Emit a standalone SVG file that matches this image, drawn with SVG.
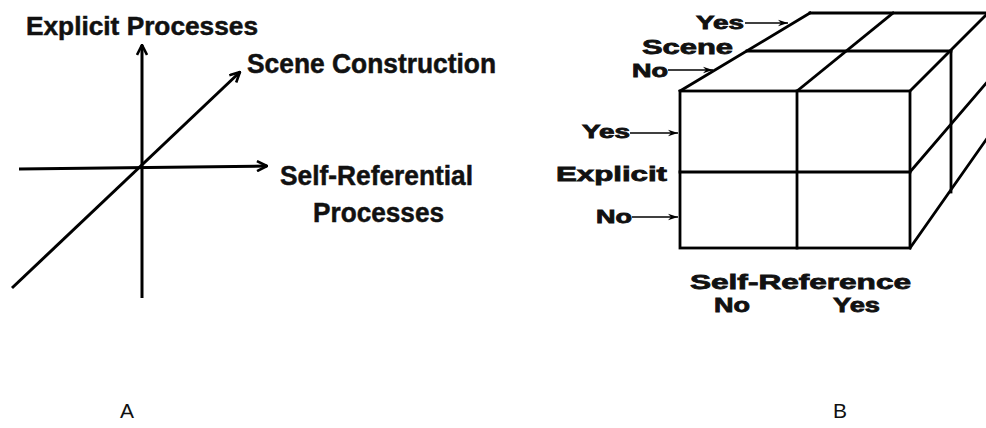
<svg xmlns="http://www.w3.org/2000/svg" width="986" height="428" viewBox="0 0 986 428">
<style>
.bg{fill:#ffffff}
.ax{stroke:#000;stroke-width:3;fill:none;stroke-linecap:butt}
.cube{stroke:#000;stroke-width:2.8;fill:none;stroke-linecap:square;stroke-linejoin:miter}
.sm{stroke:#000;stroke-width:1.6;fill:none}
.ta{font-family:"Liberation Sans",Arial,sans-serif;font-weight:bold;fill:#111;stroke:#111;stroke-width:0.5}
.tb{font-family:"Liberation Sans",Arial,sans-serif;font-weight:bold;fill:#111;stroke:#111;stroke-width:0.8}
.cap{font-family:"Liberation Sans",Arial,sans-serif;font-size:21px;fill:#111}
</style>
<defs>
<marker id="va" viewBox="0 0 12 12" refX="11" refY="6" markerWidth="12" markerHeight="12" markerUnits="userSpaceOnUse" orient="auto">
<path d="M1,1 L11,6 L1,11" fill="none" stroke="#000" stroke-width="2.6"/>
</marker>
<marker id="sa" viewBox="0 0 10 8" refX="10" refY="4" markerWidth="10" markerHeight="8" markerUnits="userSpaceOnUse" orient="auto">
<path d="M0,0.8 L10,4 L0,7.2 L3,4 Z" fill="#000"/>
</marker>
</defs>
<rect class="bg" x="0" y="0" width="986" height="428"/>

<g id="panelA-connectors">
<line class="ax" x1="142" y1="298" x2="142" y2="45" marker-end="url(#va)"/>
<line class="ax" x1="19" y1="169" x2="267" y2="166" marker-end="url(#va)"/>
<line class="ax" x1="12" y1="288" x2="240" y2="72" marker-end="url(#va)"/>
</g>
<g id="label-explicit-processes"><text class="ta" x="26" y="35" font-size="26" textLength="232" lengthAdjust="spacingAndGlyphs">Explicit Processes</text></g>
<g id="label-scene-construction"><text class="ta" x="247" y="73" font-size="27" textLength="249" lengthAdjust="spacingAndGlyphs">Scene Construction</text></g>
<g id="label-self-referential"><text class="ta" x="280" y="185" font-size="28" textLength="193" lengthAdjust="spacingAndGlyphs">Self-Referential</text>
<text class="ta" x="313" y="222" font-size="28" textLength="131" lengthAdjust="spacingAndGlyphs">Processes</text></g>

<g id="cube">
<rect class="cube" x="680" y="91" width="230" height="157"/>
<line class="cube" x1="797" y1="91" x2="797" y2="248"/>
<line class="cube" x1="680" y1="172" x2="910" y2="172"/>
<line class="cube" x1="810" y1="13" x2="990" y2="13"/>
<line class="cube" x1="747" y1="51" x2="951" y2="51"/>
<line class="cube" x1="680" y1="91" x2="810" y2="13"/>
<line class="cube" x1="797" y1="91" x2="893" y2="13"/>
<line class="cube" x1="910" y1="91" x2="988" y2="13"/>
<line class="cube" x1="951" y1="51" x2="951" y2="192"/>
<line class="cube" x1="910" y1="172" x2="988" y2="81"/>
<line class="cube" x1="910" y1="248" x2="988" y2="137"/>
</g>
<g id="panelB-connectors">
<line class="sm" x1="745" y1="23" x2="788" y2="23" marker-end="url(#sa)"/>
<line class="sm" x1="668" y1="70" x2="713" y2="70" marker-end="url(#sa)"/>
<line class="sm" x1="630" y1="133" x2="678" y2="133" marker-end="url(#sa)"/>
<line class="sm" x1="632" y1="217" x2="678" y2="217" marker-end="url(#sa)"/>
</g>
<g id="label-scene-yes"><text class="tb" x="696" y="29" font-size="18" textLength="48" lengthAdjust="spacingAndGlyphs">Yes</text></g>
<g id="label-scene"><text class="tb" x="642" y="54" font-size="21" textLength="91" lengthAdjust="spacingAndGlyphs">Scene</text></g>
<g id="label-scene-no"><text class="tb" x="632" y="77" font-size="18" textLength="36" lengthAdjust="spacingAndGlyphs">No</text></g>
<g id="label-explicit-yes"><text class="tb" x="582" y="138" font-size="18" textLength="48" lengthAdjust="spacingAndGlyphs">Yes</text></g>
<g id="label-explicit"><text class="tb" x="556" y="181" font-size="21" textLength="111" lengthAdjust="spacingAndGlyphs">Explicit</text></g>
<g id="label-explicit-no"><text class="tb" x="596" y="223" font-size="18" textLength="36" lengthAdjust="spacingAndGlyphs">No</text></g>
<g id="label-self-reference"><text class="tb" x="690" y="289" font-size="21" textLength="221" lengthAdjust="spacingAndGlyphs">Self-Reference</text></g>
<g id="label-self-no"><text class="tb" x="714" y="312" font-size="20" textLength="36" lengthAdjust="spacingAndGlyphs">No</text></g>
<g id="label-self-yes"><text class="tb" x="833" y="312" font-size="20" textLength="47" lengthAdjust="spacingAndGlyphs">Yes</text></g>

<g id="caption-A"><text class="cap" x="120" y="418">A</text></g>
<g id="caption-B"><text class="cap" x="833" y="418">B</text></g>
</svg>
